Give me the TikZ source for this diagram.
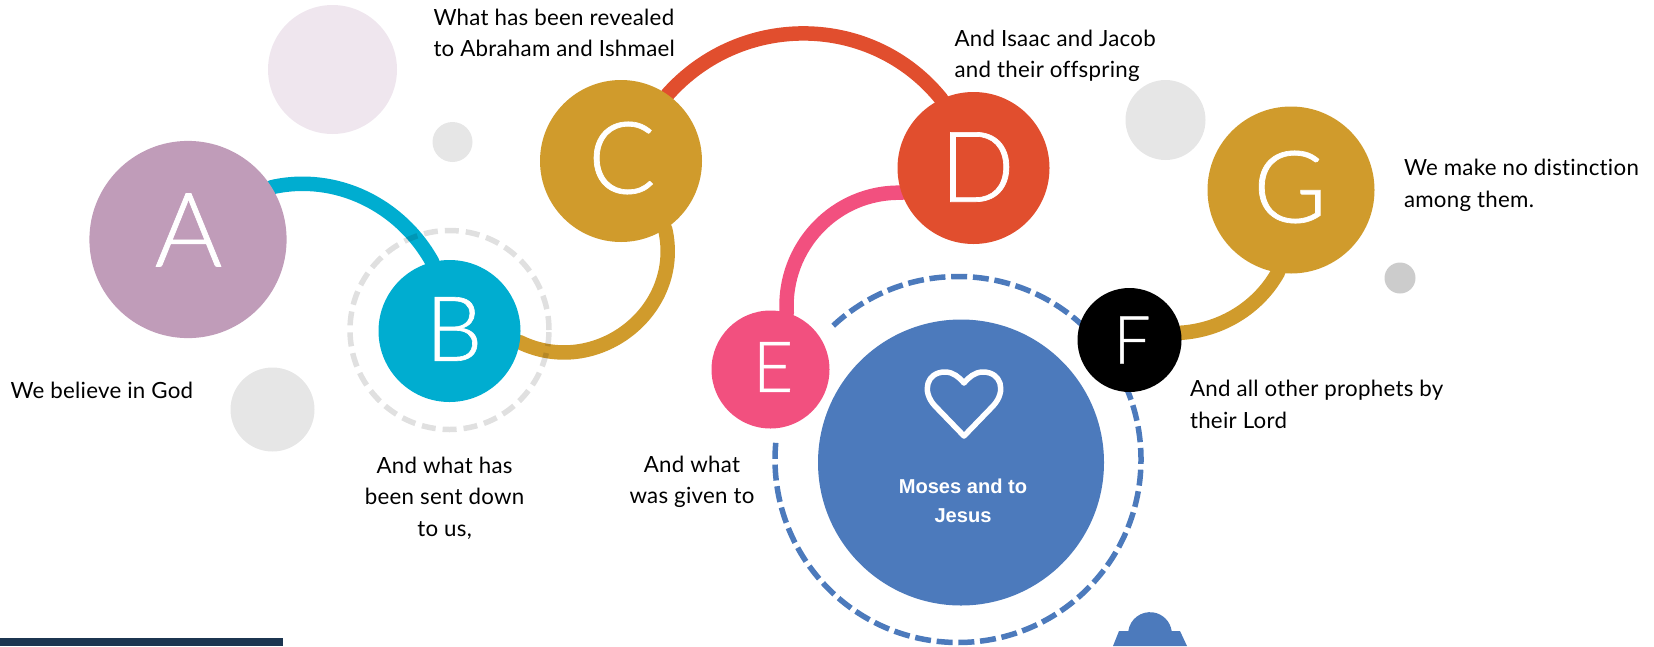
\documentclass[tikz,border=0pt]{standalone}
\usepackage{fontspec}
\setmainfont[LetterSpace=1.2,Ligatures=NoCommon]{Lato}
\newfontfamily\lightfont[RawFeature={embolden=0.7}]{Lato Light}
\newfontfamily\boldsans{Liberation Sans}
\usetikzlibrary{backgrounds}
\definecolor{cA}{HTML}{C09CB9}
\definecolor{cB}{HTML}{00ADD0}
\definecolor{cC}{HTML}{D09B2C}
\definecolor{cD}{HTML}{E14E2E}
\definecolor{cE}{HTML}{F2507F}
\definecolor{cBlue}{HTML}{4C7ABC}
\definecolor{cPale}{HTML}{EFE6EE}
\definecolor{cGrey}{HTML}{E6E6E6}
\definecolor{cGreyD}{HTML}{CCCCCC}
\definecolor{cNavy}{HTML}{1C3550}
\tikzset{
  disc/.style={circle,inner sep=0pt,outer sep=0pt,minimum size=2*#1 pt},
  letter/.style={text=white,inner sep=0pt,outer sep=0pt},
  link/.style={line width=14.5pt,line cap=round},
  caption/.style={font=\fontsize{22.3}{31.6}\selectfont,text=black,inner sep=0pt,outer sep=0pt,align=left},
  captionc/.style={caption,align=center},
}
\begin{document}
\begin{tikzpicture}[x=1pt,y=1pt]
\useasboundingbox (0,0) rectangle (1654,-646);
% decorative discs
\node[disc=64.5,fill=cPale] (p1) at (332.5,-69.5) {};
\node[disc=20,fill=cGrey] (p2) at (452.5,-142) {};
\node[disc=42,fill=cGrey] (p3) at (272.5,-409.5) {};
\node[disc=40,fill=cGrey] (p4) at (1165.5,-120) {};
\node[disc=15.5,fill=cGreyD] (p5) at (1400,-278) {};
% main discs
\node[disc=98.6,fill=cA] (A) at (188,-239.5) {};
\node[disc=71,fill=cB] (B) at (449.5,-331) {};
\node[disc=81,fill=cC] (C) at (621,-161) {};
\node[disc=76,fill=cD] (D) at (973.5,-168) {};
\node[disc=59,fill=cE] (E) at (770.5,-369.5) {};
\node[disc=143,fill=cBlue] (H) at (961,-462.5) {};
% blue dashed ring (behind F)
\coordinate (ringc) at (958,-459.5);
\draw[cBlue,line width=5.5pt,dash pattern=on 16pt off 5.75pt] (ringc) ++(133:183) arc[start angle=133,end angle=-185.3,radius=183];
\node[disc=52,fill=black] (F) at (1129.5,-340) {};
\node[disc=83.5,fill=cC] (G) at (1291,-190) {};
% links
\begin{pgfonlayer}{background}
\draw[link,cB] (A.32) to[out=12.8,in=119,looseness=.946] (B.104);
\draw[link,cC] (B.-9) to[out=-26,in=-77,looseness=1.17] (C.-57);
\draw[link,cD] (C.55.4) to[out=48.4,in=128.9,looseness=1.034] (D.115.5);
\draw[link,cE] (D.199.5) to[out=178.5,in=93.6,looseness=1.016] (E.74);
\draw[link,cC] (F.8) to[out=3.8,in=240.9,looseness=.906] (G.261);
\end{pgfonlayer}
% grey dashed ring
\node[disc=99.5,draw=black,draw opacity=.12,line width=5.5pt,dash pattern=on 14pt off 7pt] (Bring) at (449.5,-330) {};
% letters
\node[letter,font=\lightfont\fontsize{103}{103}\selectfont] (lA) at (188.5,-230) {A};
\node[letter,font=\lightfont\fontsize{90}{90}\selectfont] (lB) at (454,-329) {B};
\node[letter,font=\lightfont\fontsize{100}{100}\selectfont] (lC) at (622,-158) {C};
\node[letter,font=\lightfont\fontsize{98}{98}\selectfont] (lD) at (977.5,-167) {D};
\node[letter,font=\lightfont\fontsize{70}{70}\selectfont] (lE) at (773,-367) {E};
\node[letter,font=\lightfont\fontsize{66}{66}\selectfont] (lF) at (1132,-340) {F};
\node[letter,font=\lightfont\fontsize{100}{100}\selectfont] (lG) at (1290,-187) {G};
% heart
\draw[white,line width=5.5pt,line join=round] (964,-436) -- (935,-406)
  .. controls (921,-391) and (927,-372) .. (945,-372)
  .. controls (953,-372) and (959,-377) .. (964,-383)
  .. controls (969,-377) and (975,-372) .. (983,-372)
  .. controls (1001,-372) and (1007,-391) .. (993,-406) -- cycle;
\node[font=\boldsans\bfseries\fontsize{20.1}{29}\selectfont,text=white,align=center,inner sep=0pt] (tH) at (963,-501) {Moses and to\\Jesus};
% captions
\node[caption,anchor=west] (t1) at (10.5,-390) {We believe in God};
\node[captionc] (t2) at (444.6,-498) {And what has\\been sent down\\to us,};
\node[caption,anchor=west] (t3) at (433.5,-33) {What has been revealed\\to Abraham and Ishmael};
\node[caption,anchor=west] (t4) at (954.6,-56) {And Isaac and Jacob\\and their offspring};
\node[captionc] (t5) at (692,-482) {And what\\was given to};
\node[caption,anchor=west] (t6) at (1190,-404.5) {And all other prophets by\\their Lord};
\node[caption,anchor=west] (t7) at (1404,-185.5) {We make no distinction\\among them.};
% cropped shapes at the lower edge
\fill[cNavy] (0,-638) rectangle (283,-646);
\fill[cBlue] (1113,-646) -- (1119,-631) -- (1128.3,-631) arc[start angle=172,end angle=8,radius=21.9] -- (1180,-631) -- (1187,-646) -- cycle;
\end{tikzpicture}
\end{document}
